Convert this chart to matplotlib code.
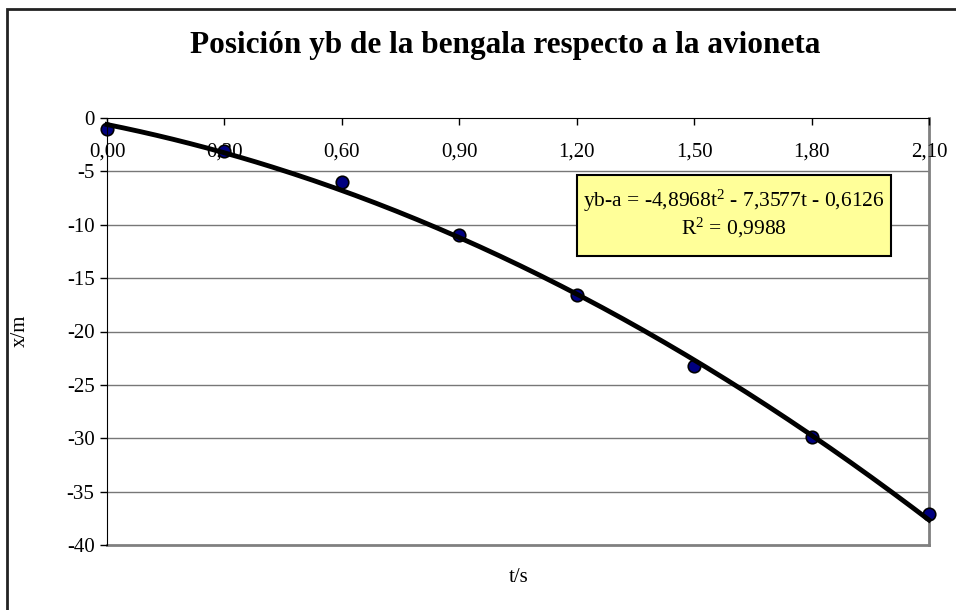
import matplotlib.pyplot as plt
from matplotlib.patches import Rectangle
import numpy as np

plt.rcParams['font.family'] = ['Liberation Serif', 'DejaVu Serif']
plt.rcParams['mathtext.fontset'] = 'custom'
plt.rcParams['mathtext.rm'] = 'Liberation Serif'
plt.rcParams['mathtext.it'] = 'Liberation Serif:italic'

# data
t = [0.0, 0.3, 0.6, 0.9, 1.2, 1.5, 1.8, 2.1]
yb = [-1.0, -3.1, -6.0, -11.0, -16.6, -23.2, -29.9, -37.1]
coef = [-4.8968, -7.3577, -0.6126]
r2 = 0.9988
xticks = [0.0, 0.3, 0.6, 0.9, 1.2, 1.5, 1.8, 2.1]
yticks = [0, -5, -10, -15, -20, -25, -30, -35, -40]

W, H = 956, 610
fig = plt.figure(figsize=(W / 100, H / 100), dpi=100)

def fx(x):
    return x / W

def fy(y):
    return 1 - y / H

# chart area border (runs off the right and bottom edges)
fig.patches.append(Rectangle((fx(6.5), -0.1), 2, fy(8.5) + 0.1,
                             transform=fig.transFigure, fill=False,
                             edgecolor='#222222', linewidth=2))

ax = fig.add_axes([fx(107), fy(545), fx(929) - fx(107), fy(118) - fy(545)])
ax.set_xlim(0, 2.1)
ax.set_ylim(-40, 0)

for v in yticks[1:-1]:
    ax.axhline(v, color='#777777', linewidth=1, zorder=1)
ax.axhline(-40, color='#808080', linewidth=2, zorder=1, clip_on=False)
ax.axvline(2.1, color='#808080', linewidth=2, zorder=1, clip_on=False)

ax.plot(t, yb, linestyle='none', marker='o', markersize=9,
        markerfacecolor='#000080', markeredgecolor='black',
        markeredgewidth=1.2, zorder=3, clip_on=False)

tt = np.linspace(0, 2.1, 200)
ax.plot(tt, np.polyval(coef, tt), color='black', linewidth=3.5, zorder=4,
        clip_on=False)

ax.spines['right'].set_visible(False)
ax.spines['top'].set_visible(False)
ax.spines['bottom'].set_position(('data', 0))
ax.spines['bottom'].set_color('black')
ax.spines['left'].set_color('black')
ax.spines['left'].set_zorder(5)
ax.spines['bottom'].set_zorder(5)

ax.set_xticks(xticks)
ax.set_xticklabels([('%.2f' % v).replace('.', ',') for v in xticks], fontsize=15)
ax.set_yticks(yticks)
ax.set_yticklabels([str(v) for v in yticks], fontsize=15)
ax.tick_params(axis='x', direction='out', length=5, pad=13, width=1)
ax.tick_params(axis='y', direction='out', length=5, pad=4, width=1)

fig.text(fx(505), fy(45), 'Posición yb de la bengala respecto a la avioneta',
         fontsize=22.5, fontweight='bold', ha='center', va='center')
fig.text(fx(519), fy(577), 't/s', fontsize=15, ha='center', va='center')
fig.text(fx(20), fy(331), 'x/m', fontsize=15, ha='center', va='center',
         rotation=90)

# trendline label box
fig.patches.append(Rectangle((fx(577), fy(256)), fx(891) - fx(577), fy(175) - fy(256),
                             transform=fig.transFigure, facecolor='#FFFF99',
                             edgecolor='black', linewidth=1.5, zorder=6))
eq = ('yb-a = %s$\\mathrm{t}^{2}$ - %st - %s'
      % (('%.4f' % coef[0]).replace('.', ','),
         ('%.4f' % -coef[1]).replace('.', ','),
         ('%.4f' % -coef[2]).replace('.', ',')))
fig.text(fx(734), fy(201), eq, fontsize=15.5, ha='center', va='center', zorder=7)
fig.text(fx(734), fy(228), 'R$^{2}$ = ' + ('%.4f' % r2).replace('.', ','),
         fontsize=15.5, ha='center', va='center', zorder=7)

fig.savefig('out.png', dpi=100)
